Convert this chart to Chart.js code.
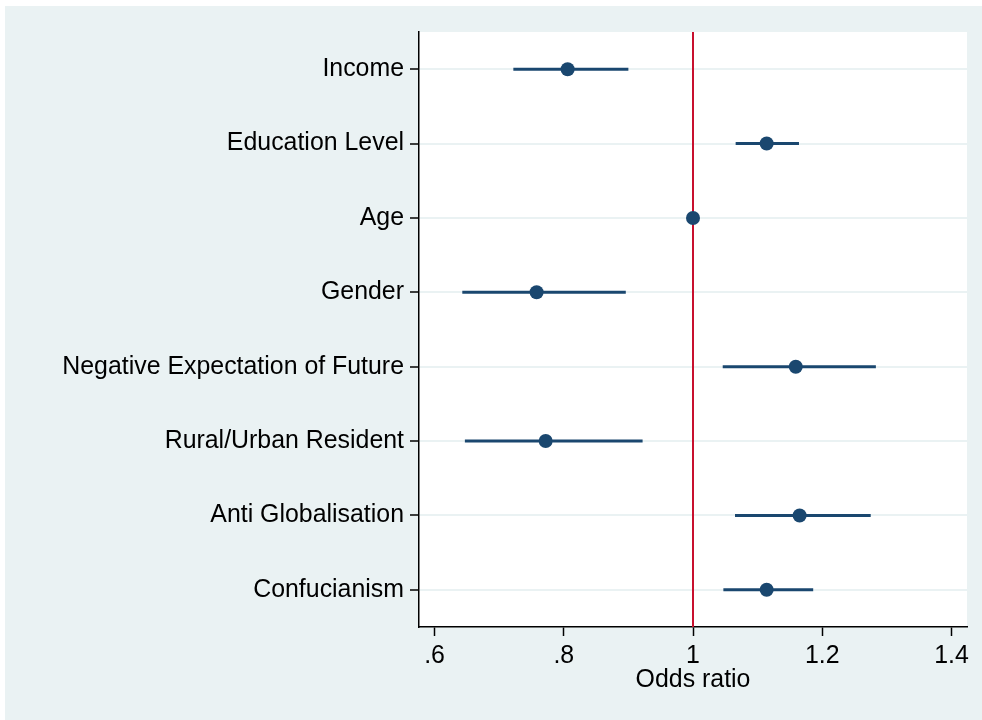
<!DOCTYPE html>
<html>
<head>
<meta charset="utf-8">
<script src="https://cdn.jsdelivr.net/npm/chart.js@4.4.1/dist/chart.umd.min.js"></script>
<style>
  html, body { margin: 0; padding: 0; background: #ffffff; }
  #wrap { position: relative; width: 982px; height: 720px; }
</style>
</head>
<body>
<div id="wrap"><canvas id="c" width="982" height="720"></canvas></div>
<script>
// ---- data ----
const categories = ["Income", "Education Level", "Age", "Gender",
  "Negative Expectation of Future", "Rural/Urban Resident",
  "Anti Globalisation", "Confucianism"];
const oddsRatio = [0.806, 1.114, 1.000, 0.758, 1.159, 0.772, 1.165, 1.114];
const ciLower   = [0.722, 1.066, 0.997, 0.643, 1.046, 0.647, 1.065, 1.047];
const ciUpper   = [0.900, 1.164, 1.003, 0.896, 1.283, 0.922, 1.275, 1.186];
const xTickValues = [0.6, 0.8, 1.0, 1.2, 1.4];
const xTickLabels = [".6", ".8", "1", "1.2", "1.4"];
const referenceValue = 1;
const xAxisTitle = "Odds ratio";

// ---- styles ----
const NAVY = "#1a476f";
const RED = "#c8102e";
const BG = "#eaf2f3";
const FONT = "'Liberation Sans', Arial, sans-serif";
const FSIZE = 24.9;

const rows = categories.map((c, i) => i + 1);

const datasets = [];
// reference line
datasets.push({
  label: "ref",
  data: [{x: referenceValue, y: 0.5}, {x: referenceValue, y: categories.length + 0.5}],
  showLine: true, borderColor: RED, borderWidth: 2, pointRadius: 0, order: 3
});
// confidence intervals
categories.forEach((c, i) => {
  datasets.push({
    label: "ci" + i,
    data: [{x: ciLower[i], y: rows[i]}, {x: ciUpper[i], y: rows[i]}],
    showLine: true, borderColor: NAVY, borderWidth: 3, pointRadius: 0, order: 2
  });
});
// point estimates
datasets.push({
  label: "or",
  data: oddsRatio.map((v, i) => ({x: v, y: rows[i]})),
  showLine: false, pointRadius: 7, pointHoverRadius: 7,
  backgroundColor: NAVY, borderColor: NAVY, borderWidth: 0, order: 1
});

const bgPlugin = {
  id: "bg",
  beforeDraw(chart) {
    const {ctx, chartArea: a} = chart;
    ctx.save();
    ctx.fillStyle = "#ffffff";
    ctx.fillRect(0, 0, chart.width, chart.height);
    ctx.fillStyle = BG;
    ctx.fillRect(5, 6, chart.width - 5, chart.height - 6);
    ctx.fillStyle = "#ffffff";
    ctx.fillRect(a.left, a.top, a.right - a.left, a.bottom - a.top);
    ctx.restore();
  }
};

new Chart(document.getElementById("c"), {
  type: "scatter",
  data: { datasets },
  plugins: [bgPlugin],
  options: {
    responsive: false,
    animation: false,
    events: [],
    layout: { padding: { top: 32, right: 15, left: 0, bottom: 0 } },
    plugins: { legend: { display: false }, tooltip: { enabled: false } },
    scales: {
      x: {
        type: "linear",
        min: 0.576, max: 1.424,
        afterBuildTicks(scale) { scale.ticks = xTickValues.map(v => ({value: v})); },
        afterFit(scale) { scale.height = 93; },
        ticks: {
          autoSkip: false, maxRotation: 0, padding: 5,
          color: "#000", font: { family: FONT, size: FSIZE },
          callback(v) { const k = xTickValues.findIndex(t => Math.abs(t - v) < 1e-9); return k >= 0 ? xTickLabels[k] : ""; }
        },
        grid: { drawOnChartArea: false, tickColor: "#000", tickLength: 9, tickWidth: 1.5 },
        border: { display: true, color: "#000", width: 1.5 },
        title: { display: true, text: xAxisTitle, color: "#000",
          font: { family: FONT, size: FSIZE }, padding: { top: 0, bottom: 25 } }
      },
      y: {
        type: "linear",
        reverse: true,
        min: 0.5, max: categories.length + 0.5,
        afterBuildTicks(scale) { scale.ticks = rows.map(v => ({value: v})); },
        afterFit(scale) { scale.width = 419; },
        ticks: {
          autoSkip: false, padding: 6,
          color: "#000", font: { family: FONT, size: FSIZE },
          callback(v) { return categories[Math.round(v) - 1] || ""; }
        },
        grid: { color: BG, lineWidth: 2, tickColor: "#000", tickLength: 9, tickWidth: 1.5 },
        border: { display: true, color: "#000", width: 1.5 }
      }
    }
  }
});
</script>
</body>
</html>
